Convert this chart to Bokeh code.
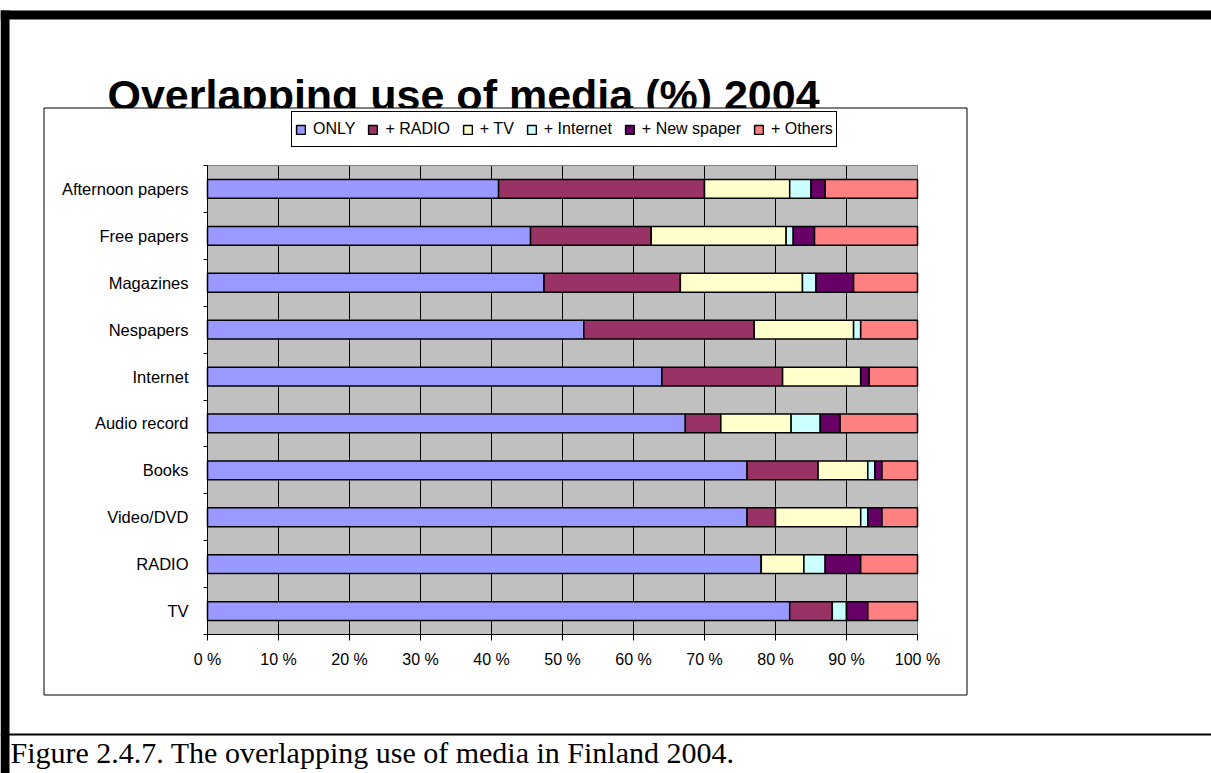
from bokeh.plotting import figure
from bokeh.models import ColumnDataSource, Range1d, FixedTicker, Label, BoxAnnotation
from bokeh.embed import file_html
from bokeh.resources import INLINE

# ---------------- data ----------------
categories = ["Afternoon papers", "Free papers", "Magazines", "Nespapers", "Internet",
              "Audio record", "Books", "Video/DVD", "RADIO", "TV"]
only      = [41, 45.5, 47.4, 53, 64, 67.3, 76, 76, 78, 82]
radio     = [29, 17, 19.2, 24, 17, 5, 10, 4, 0, 6]
tv        = [12, 19, 17.2, 14, 11, 9.9, 7, 12, 6, 0]
internet  = [3, 1, 1.9, 1, 0, 4.1, 1, 1, 3, 2]
newspaper = [2, 3, 5.3, 0, 1.2, 2.8, 1, 2, 5, 3]
others    = [13, 14.5, 9, 8, 6.8, 10.9, 5, 5, 8, 7]

series_keys = ["only", "radio", "tv", "internet", "newspaper", "others"]
series_labels = ["ONLY", "+ RADIO", "+ TV", "+ Internet", "+ New spaper", "+ Others"]
series_colors = ["#9999FF", "#993366", "#FFFFCC", "#CCFFFF", "#660066", "#FF8080"]

x_ticks = [0, 10, 20, 30, 40, 50, 60, 70, 80, 90, 100]
x_tick_labels = ["0 %", "10 %", "20 %", "30 %", "40 %", "50 %", "60 %", "70 %", "80 %", "90 %", "100 %"]

title_text = "Overlapping use of media (%) 2004"
caption_text = "Figure 2.4.7. The overlapping use of media in Finland 2004."

# ---------------- page geometry (pixels) ----------------
W, H = 1211, 773
FL, FR, FT, FB = 207, 917, 165, 634   # edges of the plotting area on the page
X_MAX = 100.0

n = len(categories)
px_per_x = (FR - FL) / X_MAX
px_per_band = (FB - FT) / n

centers = [i + 0.5 for i in range(n)]
bounds = list(range(n + 1))

source = ColumnDataSource(dict(y=centers, only=only, radio=radio, tv=tv,
                               internet=internet, newspaper=newspaper, others=others))

# The frame covers the whole page so that all page furniture can be drawn.
p = figure(width=W, height=H,
           x_range=Range1d(-FL / px_per_x, (W - FL) / px_per_x),
           y_range=Range1d((H - FT) / px_per_band, -FT / px_per_band),
           output_backend="svg", toolbar_location=None,
           min_border=0, min_border_left=0, min_border_right=0,
           min_border_top=0, min_border_bottom=0,
           background_fill_color="white", border_fill_color="white",
           outline_line_color=None)
p.xgrid.visible = False
p.ygrid.visible = False


def scr(px, py):
    """page pixel (from top-left) -> screen units of the frame (from bottom-left)"""
    return px, H - py


def sbox(l, t, r, b, **kw):
    return BoxAnnotation(left=l, right=r, top=H - t, bottom=H - b,
                         left_units="screen", right_units="screen",
                         top_units="screen", bottom_units="screen", **kw)


# ---------- title, then the chart object's box drawn over its descenders ----------
tx, ty = scr(107, 94)
p.add_layout(Label(x=tx, y=ty, x_units="screen", y_units="screen", text=title_text,
                   text_font="Liberation Sans", text_font_size="43px", text_font_style="bold",
                   text_color="black", text_baseline="alphabetic", text_align="left",
                   level="underlay"))
p.add_layout(sbox(43.5, 107.5, 966.5, 694.5, fill_color="white", fill_alpha=1.0,
                  line_color="black", line_alpha=1.0, line_width=1, level="underlay"))
# plot area background (data space)
p.add_layout(BoxAnnotation(left=0, right=X_MAX, top=0, bottom=n,
                           fill_color="#C0C0C0", fill_alpha=1.0,
                           line_color=None, level="underlay"))

# ---------- vertical grid lines ----------
p.segment(x0=x_ticks, x1=x_ticks, y0=[0] * len(x_ticks), y1=[n] * len(x_ticks),
          line_color="black", line_width=1)
# plot area top/right border (grey)
p.segment(x0=[0, X_MAX], x1=[X_MAX, X_MAX], y0=[0, 0], y1=[0, n],
          line_color="#808080", line_width=1)

# ---------- bars ----------
p.hbar_stack(series_keys, y="y", height=0.4, color=series_colors, source=source,
             line_color="black", line_width=1.5, legend_label=series_labels)

# ---------- axes (fixed inside the frame) ----------
xa = p.xaxis[0]
xa.fixed_location = n
xa.bounds = (0, X_MAX)
xa.ticker = FixedTicker(ticks=x_ticks)
xa.major_label_overrides = {t: lab for t, lab in zip(x_ticks, x_tick_labels)}
xa.major_tick_out = 6
xa.major_tick_in = 0
xa.minor_tick_out = 0
xa.minor_tick_in = 0
xa.axis_line_color = "black"
xa.major_tick_line_color = "black"
xa.major_label_text_font = "Liberation Sans"
xa.major_label_text_font_size = "16px"
xa.major_label_text_color = "black"
xa.major_label_standoff = 10

ya = p.yaxis[0]
ya.fixed_location = 0
ya.bounds = (0, n)
ya.ticker = FixedTicker(ticks=centers, minor_ticks=bounds)
ya.major_label_overrides = {c: cat for c, cat in zip(centers, categories)}
ya.major_tick_out = 0
ya.major_tick_in = 0
ya.minor_tick_out = 4
ya.minor_tick_in = 0
ya.minor_tick_line_color = "black"
ya.axis_line_color = "black"
ya.major_label_text_font = "Liberation Sans"
ya.major_label_text_font_size = "16.5px"
ya.major_label_text_color = "black"
ya.major_label_standoff = 15

# ---------- legend ----------
lg = p.legend[0]
lg.orientation = "horizontal"
lg.location = (291, H - 147)
lg.margin = 0
lg.padding = 3
lg.spacing = 12
lg.glyph_width = 11
lg.glyph_height = 11
lg.label_standoff = 7
lg.label_height = 28
lg.label_text_font = "Liberation Sans"
lg.label_text_font_size = "16px"
lg.label_text_color = "black"
lg.border_line_color = "black"
lg.border_line_width = 1
lg.border_line_alpha = 1.0
lg.background_fill_color = "white"
lg.background_fill_alpha = 1.0

# ---------- page decorations ----------
p.add_layout(sbox(0, 10, W, 19, fill_color="black", fill_alpha=1.0, line_color=None))
p.add_layout(sbox(0, 10, 9, H, fill_color="black", fill_alpha=1.0, line_color=None))
p.add_layout(sbox(0, 733, W, 735, fill_color="black", fill_alpha=1.0, line_color=None))

cx, cy = scr(10, 752)
p.add_layout(Label(x=cx, y=cy, x_units="screen", y_units="screen", text=caption_text,
                   text_font="Liberation Serif", text_font_size="30px", text_color="black",
                   text_baseline="alphabetic", text_align="left"))

open("out.html", "w").write(file_html(p, INLINE))
